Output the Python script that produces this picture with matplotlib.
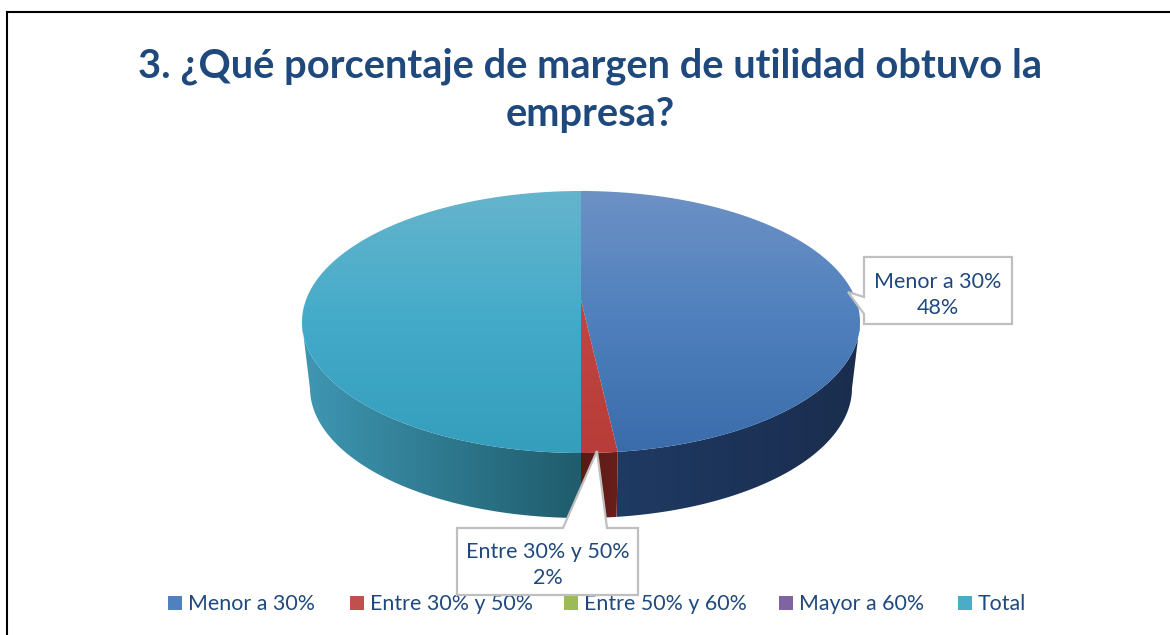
import numpy as np
import matplotlib
matplotlib.use('Agg')
import matplotlib.pyplot as plt
from matplotlib.patches import Polygon, Rectangle
from matplotlib.colors import LinearSegmentedColormap

plt.rcParams['font.family'] = ['Lato', 'DejaVu Sans']

# datos
categorias = ['Menor a 30%', 'Entre 30% y 50%', 'Entre 50% y 60%', 'Mayor a 60%', 'Total']
valores = [47.9, 2.1, 0, 0, 50]
colores = ['#4f81bd', '#c0504d', '#9bbb59', '#8064a2', '#4bacc6']
titulo = '3. ¿Qué porcentaje de margen de utilidad obtuvo la\nempresa?'

# colores de la cara superior (arriba, medio, abajo) y del costado (izquierda, derecha)
cara = {0: ['#6c91c5', '#4f80bd', '#3a6cab'], 1: ['#c9504c', '#c0453f', '#b83d3a'], 4: ['#66b4cd', '#43abc9', '#359ebc']}
costado = {0: ['#1f3a63', '#1a2d4e'], 1: ['#5a1a16', '#681f1a'], 4: ['#3f97b3', '#1f5c6c']}

AZUL = '#1f497d'
cx, cy, rx, ry = 581, 322, 279, 131
# elipse inferior: algo mas angosta por la perspectiva
cy2, rx2, ry2 = 388, 271, 130
apice = 300

fig = plt.figure(figsize=(11.7, 6.35), dpi=100)
ax = fig.add_axes([0, 0, 1, 1])
ax.set_xlim(0, 1170)
ax.set_ylim(635, 0)
ax.axis('off')

# marco
ax.plot([6.5, 6.5], [635, 11.5], color='black', lw=1.5, zorder=1)
ax.plot([6.5, 1170], [11.5, 11.5], color='black', lw=1.5, zorder=1)

ax.text(590, 90, titulo, color=AZUL, fontsize=28.75, fontweight='bold', ha='center',
        va='center', linespacing=1.38)


def gradiente(cols, poligono, horizontal, extent):
    cmap = LinearSegmentedColormap.from_list('g', cols)
    g = np.linspace(0, 1, 256)
    g = g.reshape(1, -1) if horizontal else g.reshape(-1, 1)
    im = ax.imshow(g, cmap=cmap, extent=extent, aspect='auto', zorder=3, interpolation='bilinear')
    poligono.set_transform(ax.transData)
    im.set_clip_path(poligono)


# angulos de cada porcion, en sentido horario desde arriba
total = sum(valores)
acum = 0
for i, v in enumerate(valores):
    if v == 0:
        continue
    t = np.radians(np.linspace(acum, acum + v, 200) / total * 360)
    acum += v
    xs = cx + rx * np.sin(t)
    ys = cy - ry * np.cos(t)

    # costado: solo la parte frontal
    m = (t >= np.pi / 2) & (t <= 3 * np.pi / 2)
    if m.any():
        tf = t[m]
        arriba = np.c_[cx + rx * np.sin(tf), cy - ry * np.cos(tf)]
        abajo = np.c_[cx + rx2 * np.sin(tf), cy2 - ry2 * np.cos(tf)]
        pts = np.r_[arriba, abajo[::-1]]
        x0, x1 = pts[:, 0].min(), pts[:, 0].max()
        gradiente(costado[i], Polygon(pts, closed=True, fc='none', ec='none'), True,
                  (x0, x1, cy2 + ry2 + 2, cy))

    # cara superior
    pts = np.r_[[[cx, apice]], np.c_[xs, ys]]
    gradiente(cara[i], Polygon(pts, closed=True, fc='none', ec='none'), False,
              (cx - rx, cx + rx, cy + ry, cy - ry))

ax.set_xlim(0, 1170)
ax.set_ylim(635, 0)


# etiquetas con forma de globo
def globo(pts, texto, tx, ty):
    ax.add_patch(Polygon(pts, closed=True, fc='white', ec='#bfbfbf', lw=1.6, zorder=5))
    ax.text(tx, ty, texto, color=AZUL, fontsize=15.5, ha='center', va='center',
            linespacing=1.35, zorder=6)


globo([(864, 257), (1012, 257), (1012, 324), (864, 324), (864, 314), (848, 292), (864, 297)],
      f'{categorias[0]}\n{round(valores[0])}%', 938, 295)
globo([(457, 528), (563, 528), (597, 451), (607, 528), (638, 528), (638, 595), (457, 595)],
      f'{categorias[1]}\n{round(valores[1])}%', 548, 565)

# leyenda
ley_x = [168, 350, 564, 779, 958]
for i, c in enumerate(categorias):
    ax.add_patch(Rectangle((ley_x[i], 596), 14, 14, fc=colores[i], ec='none', zorder=4))
    ax.text(ley_x[i] + 20, 604, c, color=AZUL, fontsize=15.4, ha='left', va='center', zorder=4)

fig.savefig('out.png', dpi=100)
